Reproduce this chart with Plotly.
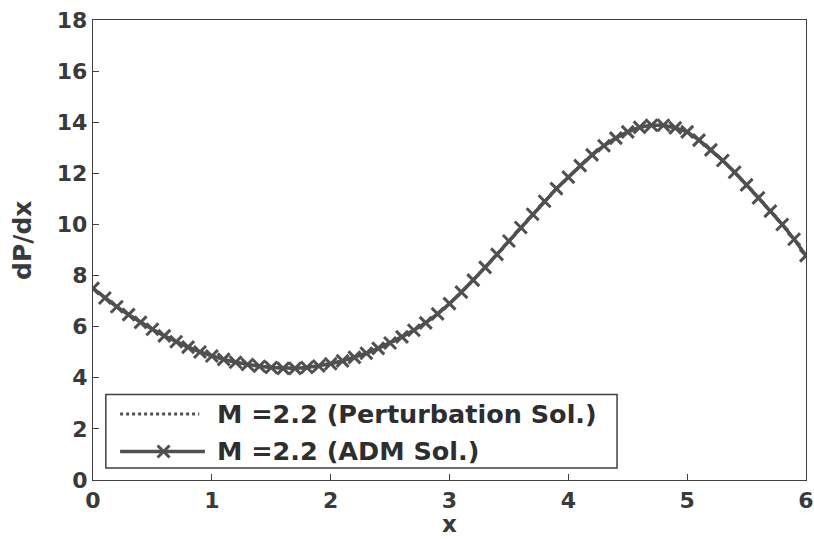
import plotly.graph_objects as go

# Pressure gradient dP/dx along the channel, sampled every 0.1 in x
x_vals = [round(0.1 * i, 1) for i in range(61)]

adm_dpdx = [
    7.50, 7.12, 6.78, 6.47, 6.17, 5.90, 5.64, 5.41, 5.20, 5.01,
    4.85, 4.72, 4.61, 4.52, 4.45, 4.40, 4.37, 4.37, 4.40, 4.46,
    4.55, 4.66, 4.80, 4.96, 5.15, 5.36, 5.60, 5.86, 6.15, 6.50,
    6.90, 7.35, 7.82, 8.32, 8.83, 9.35, 9.88, 10.40, 10.91, 11.40,
    11.85, 12.30, 12.72, 13.08, 13.38, 13.62, 13.80, 13.88, 13.88, 13.78,
    13.62, 13.30, 12.92, 12.50, 12.04, 11.55, 11.04, 10.52, 10.00, 9.42,
    8.78,
]
pert_dpdx = list(adm_dpdx)

x_ticks = [0, 1, 2, 3, 4, 5, 6]
y_ticks = [0, 2, 4, 6, 8, 10, 12, 14, 16, 18]

series_names = ["M =2.2 (Perturbation Sol.)", "M =2.2 (ADM Sol.)"]
x_title = "x"
y_title = "dP/dx"

line_col = "#505050"
axis_col = "#404040"
text_col = "#3a3a3a"
font_fam = "DejaVu Sans, Liberation Sans, Arial, sans-serif"

fig = go.Figure()
fig.add_trace(go.Scatter(
    x=x_vals, y=pert_dpdx, name=series_names[0], mode="lines",
    line=dict(color=line_col, width=3, dash="dot"), showlegend=False,
))
fig.add_trace(go.Scatter(
    x=x_vals, y=adm_dpdx, name=series_names[1], mode="lines+markers",
    line=dict(color=line_col, width=3.5),
    marker=dict(symbol="x-thin", size=12, line=dict(color=line_col, width=3)),
    showlegend=False,
))

axis_common = dict(
    showgrid=False, zeroline=False, showline=True, mirror=True,
    linecolor=axis_col, linewidth=1.3, ticks="inside", ticklen=6,
    tickcolor=axis_col, ticklabeloverflow="allow", automargin=False,
    tickfont=dict(family=font_fam, size=22, color=text_col, weight="bold"),
)

# Legend drawn as a framed box in paper coordinates
box = dict(x0=0.018, x1=0.735, y0=0.026, y1=0.186)
rows_y = [0.1435, 0.0620]
sample_x = (0.038, 0.157)
label_x = 0.171
marker_x = 0.099

shapes = [
    dict(type="rect", xref="paper", yref="paper", layer="above",
         fillcolor="white", line=dict(color=axis_col, width=1.5), **box),
    dict(type="line", xref="paper", yref="paper", layer="above",
         x0=sample_x[0], x1=sample_x[1] - 0.008, y0=rows_y[0], y1=rows_y[0],
         line=dict(color=line_col, width=3, dash="dot")),
    dict(type="line", xref="paper", yref="paper", layer="above",
         x0=sample_x[0], x1=sample_x[1], y0=rows_y[1], y1=rows_y[1],
         line=dict(color=line_col, width=3.5)),
]
# x-shaped marker on the ADM legend sample
arm = 6
for dx, dy in [(arm, arm), (arm, -arm)]:
    shapes.append(dict(
        type="line", xref="paper", yref="paper", layer="above",
        xsizemode="pixel", ysizemode="pixel",
        xanchor=marker_x, yanchor=rows_y[1],
        x0=-dx, x1=dx, y0=-dy, y1=dy,
        line=dict(color=line_col, width=3),
    ))

annotations = [
    dict(text=name, xref="paper", yref="paper", x=label_x, y=yy,
         xanchor="left", yanchor="middle", showarrow=False,
         font=dict(family=font_fam, size=25.5, color="#2e2e2e", weight="bold"))
    for name, yy in zip(series_names, rows_y)
]
# Axis titles
annotations.append(dict(
    text=x_title, xref="paper", yref="paper", x=0.5, y=-0.096,
    xanchor="center", yanchor="middle", showarrow=False,
    font=dict(family=font_fam, size=23, color=text_col, weight="bold")))
annotations.append(dict(
    text=y_title, xref="paper", yref="paper", x=-0.098, y=0.52,
    xanchor="center", yanchor="middle", showarrow=False, textangle=-90,
    font=dict(family=font_fam, size=25, color=text_col, weight="bold")))

fig.update_layout(
    width=814, height=539,
    margin=dict(l=93, r=8, t=20, b=59),
    paper_bgcolor="white", plot_bgcolor="white",
    font=dict(family=font_fam, color=text_col),
    showlegend=False,
    shapes=shapes,
    annotations=annotations,
    xaxis=dict(range=[0, 6], tickvals=x_ticks, **axis_common),
    yaxis=dict(range=[0, 18], tickvals=y_ticks, **axis_common),
)

fig.write_html("out.html")
